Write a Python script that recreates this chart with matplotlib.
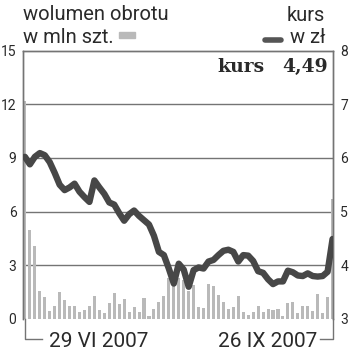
import matplotlib
matplotlib.use("Agg")
import matplotlib.pyplot as plt
import numpy as np

# ---- data ----
volume = [12.2, 5.0, 4.1, 1.55, 1.21, 0.45, 0.75, 1.51, 1.08, 0.71,
          0.71, 0.39, 0.52, 0.73, 1.28, 0.48, 0.32, 0.88, 1.45, 0.84,
          1.10, 0.37, 0.65, 0.37, 1.15, 0.18, 0.56, 0.93, 1.28, 2.3,
          2.4, 2.3, 2.2, 1.55, 1.9, 0.69, 0.6, 1.97, 1.86, 1.34,
          0.95, 0.56, 0.67, 1.30, 0.37, 0.2, 0.39, 0.73, 0.37, 0.54,
          0.5, 0.54, 0.17, 0.88, 0.95, 0.32, 0.73, 0.73, 0.45, 1.38,
          0.35, 1.23, 6.7]
price = [6.02, 5.88, 6.02, 6.09, 6.05, 5.92, 5.72, 5.50, 5.40, 5.45,
         5.52, 5.37, 5.27, 5.18, 5.58, 5.45, 5.33, 5.17, 5.13, 4.97,
         4.83, 4.95, 5.02, 4.92, 4.84, 4.76, 4.55, 4.25, 4.19, 3.94,
         3.66, 4.03, 3.92, 3.60, 3.91, 3.96, 3.94, 4.07, 4.10, 4.19,
         4.27, 4.29, 4.25, 4.07, 4.19, 4.18, 4.08, 3.89, 3.86, 3.74,
         3.65, 3.70, 3.70, 3.90, 3.87, 3.81, 3.80, 3.85, 3.80, 3.79,
         3.80, 3.88, 4.49]
left_ticks = [0, 3, 6, 9, 12, 15]
right_ticks = [3, 4, 5, 6, 7, 8]
date_first = "29 VI 2007"
date_last = "26 IX 2007"
last_price = "4,49"

W, H = 350, 352
fig = plt.figure(figsize=(W / 100, H / 100), dpi=100)
fig.patch.set_facecolor("white")

def fx(px):
    return px / W

def fy(py):
    return 1 - py / H

ax_l, ax_r, ax_t, ax_b = 22.7, 333.3, 50.5, 319
ax = fig.add_axes([fx(ax_l), fy(ax_b), fx(ax_r - ax_l), (ax_b - ax_t) / H])
ax2 = ax.twinx()

x = np.arange(len(volume))
frame_col = "#747474"
bar_col = "#b9b9b9"
line_col = "#474747"
txt_col = "#2a2a2a"

ax.bar(x, volume, width=0.62, color=bar_col, zorder=2)
ax.set_ylim(0, 15)
ax.set_xlim(-0.45, len(volume) - 1 + 0.15)
for v in [3, 6, 9, 12]:
    ax.axhline(v, color=frame_col, lw=1.0, zorder=1)

ax2.plot(x, price, color=line_col, lw=4.6, solid_joinstyle="round",
         solid_capstyle="round", zorder=3)
ax2.set_ylim(3, 8)

ax.set_zorder(1)
ax2.set_zorder(2)
ax2.patch.set_visible(False)

for a in (ax, ax2):
    for s in ("left", "right", "top"):
        a.spines[s].set_color(frame_col)
        a.spines[s].set_linewidth(1.0)
    a.spines["bottom"].set_visible(False)
    a.tick_params(length=0, labelsize=10, labelcolor=txt_col)
    a.set_xticks([])

ax.set_yticks(left_ticks)
ax.set_yticklabels([str(t) for t in left_ticks], fontfamily="Roboto")
ax.tick_params(axis="y", pad=4.5)
ax2.set_yticks(right_ticks)
ax2.set_yticklabels([str(t) for t in right_ticks], fontfamily="Roboto")
ax2.tick_params(axis="y", pad=5)

# date brackets
ybr = -20 / 17.9
ax.plot([0, 0, 3.4], [0, ybr, ybr], color=frame_col, lw=1.0, clip_on=False)
n = len(volume) - 1
ax.plot([n, n, n - 2.6], [0, ybr, ybr], color=frame_col, lw=1.0, clip_on=False)
fig.text(fx(49), fy(347), date_first, ha="left", va="baseline",
         fontsize=15, fontfamily="Roboto", color=txt_col)
fig.text(fx(317), fy(347), date_last, ha="right", va="baseline",
         fontsize=15, fontfamily="Roboto", color=txt_col)

# headers
fig.text(fx(23), fy(20), "wolumen obrotu", ha="left", va="baseline",
         fontsize=14.5, fontfamily="Roboto", color=txt_col)
fig.text(fx(23), fy(42.7), "w mln szt.", ha="left", va="baseline",
         fontsize=14.5, fontfamily="Roboto", color=txt_col)
fig.add_artist(plt.Rectangle((fx(119), fy(37.5)), fx(16), 5.5 / H,
                             color=bar_col, transform=fig.transFigure))
fig.text(fx(325), fy(21), "kurs", ha="right", va="baseline",
         fontsize=14.5, fontfamily="Roboto", color=txt_col)
fig.text(fx(325), fy(43), "w zł", ha="right", va="baseline",
         fontsize=14.5, fontfamily="Roboto", color=txt_col)
fig.add_artist(plt.Line2D([fx(265), fx(281)], [fy(39.5), fy(39.5)],
                          color="#555555", lw=4.0, solid_capstyle="round",
                          transform=fig.transFigure))

fig.text(fx(217), fy(72), "kurs", ha="left", va="baseline", fontsize=13.5,
         fontweight="bold", fontfamily="DejaVu Serif", color=txt_col)
fig.text(fx(328), fy(72), last_price, ha="right", va="baseline", fontsize=13.5,
         fontweight="bold", fontfamily="DejaVu Serif", color=txt_col)

fig.savefig("out.png", dpi=100, facecolor="white")
